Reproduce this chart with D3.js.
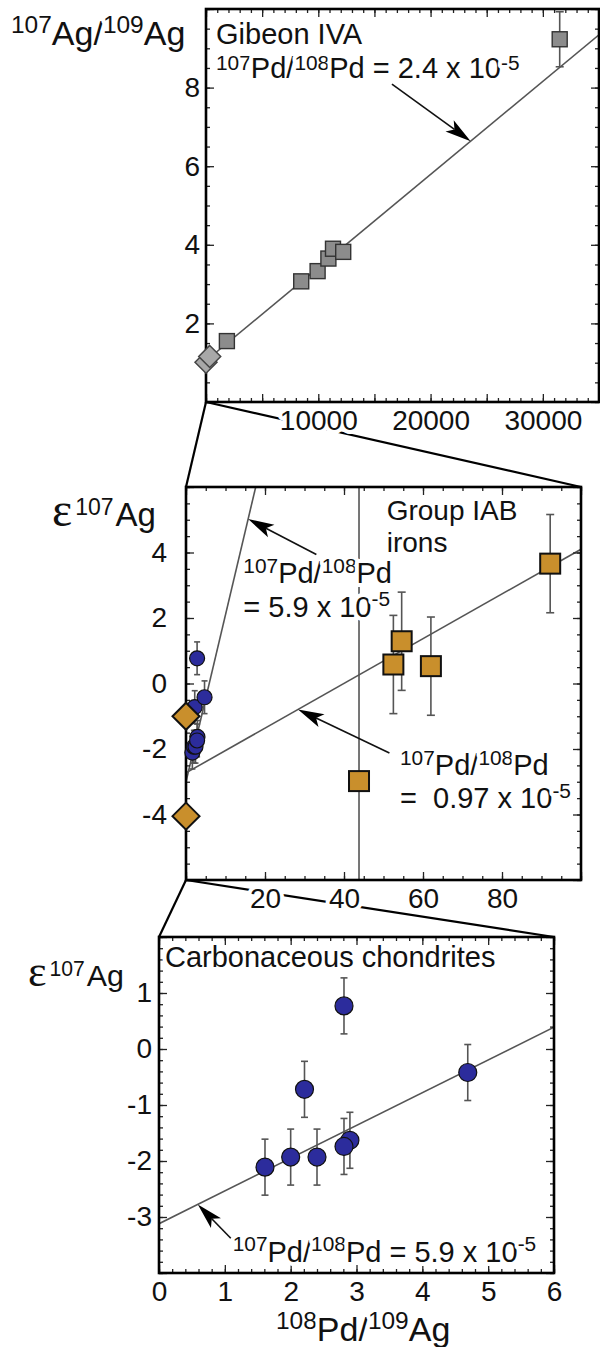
<!DOCTYPE html>
<html>
<head>
<meta charset="utf-8">
<script src="https://cdn.jsdelivr.net/npm/d3@7"></script>
<style>
  body { margin: 0; background: #fff; }
  svg { display: block; font-family: "Liberation Sans", Arial, sans-serif; }
  text { white-space: pre; }
</style>
</head>
<body>
<div id="chart"></div>
<script>
// ---- panel 1 : Gibeon IVA ----
const gibPdAg = [1860, 8480, 9940, 10900, 11310, 12220, 31500];
const gibAg = [1.55, 3.07, 3.33, 3.65, 3.90, 3.82, 9.23];
const gibErr = [0, 0, 0, 0, 0, 0, 0.7];
const gibDiaPdAg = [0, 330];
const gibDiaAg = [1.01, 1.16];
const gibFit = [1.05, 2.37e-4]; // intercept, slope

// ---- panel 2 : group IAB irons ----
const iabPdAg = [43.8, 52.5, 54.6, 62.0, 92.2];
const iabEps = [-2.98, 0.58, 1.29, 0.53, 3.66];
const iabErr = [9, 1.5, 1.5, 1.5, 1.5];
const iabDiaPdAg = [0, 0];
const iabDiaEps = [-1.0, -4.05];
const iabFit = [-2.73, 0.0683];
const ccFitZoomed = [-3.0, 0.51];

// ---- panel 3 : carbonaceous chondrites ----
const ccPdAg = [1.61, 2.00, 2.21, 2.40, 2.81, 2.90, 2.81, 4.69];
const ccEps = [-2.11, -1.93, -0.72, -1.93, 0.77, -1.63, -1.74, -0.42];
const ccErr = [0.5, 0.5, 0.5, 0.5, 0.5, 0.5, 0.5, 0.5];
const ccFit = [-3.12, 0.585];

// tick labels
const p1xLabels = [10000, 20000, 30000];
const p1yLabels = [2, 4, 6, 8];
const p2xLabels = [20, 40, 60, 80];
const p2yLabels = [-4, -2, 0, 2, 4];
const p3xLabels = [0, 1, 2, 3, 4, 5, 6];
const p3yLabels = [-3, -2, -1, 0, 1];

const ORANGE = '#c98f2c';
const BLUE = '#2c2c9c';
const GREY = '#8c8c8c';
const FS = 28;      // tick label size
const AFS = 29;     // annotation size

const svg = d3.select('#chart').append('svg')
  .attr('width', 600).attr('height', 1347);

const panels = {
  p1: { left: 206, top: 9, right: 599, bottom: 402, xd: [0, 35000], yd: [0, 10],
        xMaj: 5000, xMin: 1000, yMaj: 2, yMin: 0.5, xLab: p1xLabels, yLab: p1yLabels, yPad: 6 },
  p2: { left: 186, top: 487, right: 581, bottom: 880, xd: [0, 100], yd: [-6, 6],
        xMaj: 20, xMin: 5, yMaj: 2, yMin: 0.5, xLab: p2xLabels, yLab: p2yLabels, yPad: 19 },
  p3: { left: 159, top: 937, right: 554, bottom: 1273, xd: [0, 6], yd: [-4, 2],
        xMaj: 1, xMin: 0.2, yMaj: 1, yMin: 0.2, xLab: p3xLabels, yLab: p3yLabels, yPad: 7 }
};

// zoom connector lines (under everything)
const conn = svg.append('g').attr('stroke', '#000').attr('stroke-width', 2.2);
[['p1', 'p2'], ['p2', 'p3']].forEach(([a, b]) => {
  const A = panels[a], B = panels[b];
  conn.append('line').attr('x1', A.left).attr('y1', A.bottom).attr('x2', B.left).attr('y2', B.top);
  conn.append('line').attr('x1', A.left).attr('y1', A.bottom).attr('x2', B.right).attr('y2', B.top);
});

function halo(sel) {
  return sel.attr('stroke', '#fff').attr('stroke-width', 8)
    .attr('stroke-linejoin', 'round').attr('paint-order', 'stroke');
}

// parts: [string, isSup]; a part '\n' starts a new line
function rich(g, x, y, parts, size, opts) {
  opts = opts || {};
  const supK = opts.supK || 0.72, rise = size * (opts.rise || 0.36), lh = opts.lh || size;
  const t = g.append('text').attr('x', x).attr('y', y)
    .attr('font-size', size).attr('fill', '#111');
  let up = false, first = true;
  parts.forEach(([s, sup]) => {
    if (s === '\n') { first = 'br'; return; }
    const ts = t.append('tspan').text(s);
    let dy = 0;
    if (first === 'br') { ts.attr('x', x); dy += lh; }
    if (sup) ts.attr('font-size', size * supK);
    if (sup && !up) { dy -= rise; up = true; }
    else if (!sup && up) { dy += rise; up = false; }
    if (dy) ts.attr('dy', dy);
    first = false;
  });
  return halo(t);
}

function makePanel(key, id) {
  const c = panels[key];
  const w = c.right - c.left, h = c.bottom - c.top;
  const x = d3.scaleLinear().domain(c.xd).range([0, w]);
  const y = d3.scaleLinear().domain(c.yd).range([h, 0]);
  const g = svg.append('g').attr('transform', `translate(${c.left},${c.top})`);
  g.append('clipPath').attr('id', id).append('rect').attr('width', w).attr('height', h);
  const plot = g.append('g').attr('clip-path', `url(#${id})`);
  return { c, w, h, x, y, g, plot };
}

function frame(P) {
  const { c, w, h, x, y, g } = P;
  const xMin = d3.range(c.xd[0], c.xd[1] + 1e-9, c.xMin);
  const xMaj = d3.range(c.xd[0], c.xd[1] + 1e-9, c.xMaj);
  const yMin = d3.range(Math.ceil(c.yd[0] / c.yMin) * c.yMin, c.yd[1] + 1e-9, c.yMin);
  const yMaj = d3.range(Math.ceil(c.yd[0] / c.yMaj) * c.yMaj, c.yd[1] + 1e-9, c.yMaj);
  const sides = [
    [d3.axisBottom(x), `translate(0,${h})`, xMin, xMaj],
    [d3.axisTop(x), 'translate(0,0)', xMin, xMaj],
    [d3.axisLeft(y), 'translate(0,0)', yMin, yMaj],
    [d3.axisRight(y), `translate(${w},0)`, yMin, yMaj]
  ];
  sides.forEach(([ax, tr, mn, mj]) => {
    [[mn, -4], [mj, -8]].forEach(([vals, size]) => {
      g.append('g').attr('transform', tr)
        .call(ax.tickValues(vals).tickSize(size).tickFormat(''))
        .call(a => a.select('.domain').remove())
        .selectAll('line').attr('stroke', '#222').attr('stroke-width', 1.3);
    });
  });
  g.append('rect').attr('width', w).attr('height', h)
    .attr('fill', 'none').attr('stroke', '#000').attr('stroke-width', 2.6);

  const xl = g.append('g').attr('transform', `translate(0,${h})`)
    .call(d3.axisBottom(x).tickValues(c.xLab).tickSize(0).tickPadding(8).tickFormat(d => String(d)));
  const yl = g.append('g')
    .call(d3.axisLeft(y).tickValues(c.yLab).tickSize(0).tickPadding(c.yPad).tickFormat(d => String(d)));
  [xl, yl].forEach(a => {
    a.select('.domain').remove();
    a.attr('font-size', FS).attr('font-family', null);
    halo(a.selectAll('text').attr('fill', '#111'));
  });
}

function fitLine(P, fit) {
  const [b, m] = fit;
  P.plot.append('line')
    .attr('x1', P.x(P.c.xd[0])).attr('y1', P.y(b + m * P.c.xd[0]))
    .attr('x2', P.x(P.c.xd[1])).attr('y2', P.y(b + m * P.c.xd[1]))
    .attr('stroke', '#555').attr('stroke-width', 1.6);
}

function errBars(P, xs, ys, es, cap) {
  const eg = P.plot.append('g').attr('stroke', '#555').attr('stroke-width', 1.6);
  xs.forEach((v, i) => {
    if (!es[i]) return;
    const cx = P.x(v), y1 = P.y(ys[i] + es[i]), y2 = P.y(ys[i] - es[i]);
    eg.append('line').attr('x1', cx).attr('x2', cx).attr('y1', y1).attr('y2', y2);
    [y1, y2].forEach(yy => eg.append('line')
      .attr('x1', cx - cap).attr('x2', cx + cap).attr('y1', yy).attr('y2', yy));
  });
}

function squares(P, xs, ys, s, fill, stroke, sw) {
  P.g.append('g').selectAll('rect').data(xs).join('rect')
    .attr('x', (d) => P.x(d) - s / 2).attr('y', (d, i) => P.y(ys[i]) - s / 2)
    .attr('width', s).attr('height', s)
    .attr('fill', fill).attr('stroke', stroke).attr('stroke-width', sw);
}

function diamonds(P, xs, ys, r, fill, stroke, sw) {
  P.g.append('g').selectAll('path').data(xs).join('path')
    .attr('d', (d, i) => {
      const cx = P.x(d), cy = P.y(ys[i]);
      return `M${cx},${cy - r}L${cx + r},${cy}L${cx},${cy + r}L${cx - r},${cy}Z`;
    })
    .attr('fill', fill).attr('stroke', stroke).attr('stroke-width', sw);
}

function circles(P, xs, ys, r) {
  P.g.append('g').selectAll('circle').data(xs).join('circle')
    .attr('cx', d => P.x(d)).attr('cy', (d, i) => P.y(ys[i])).attr('r', r)
    .attr('fill', BLUE).attr('stroke', '#111').attr('stroke-width', 1.2);
}

function arrow(P, tail, tip) {
  const x1 = P.x(tail[0]), y1 = P.y(tail[1]), x2 = P.x(tip[0]), y2 = P.y(tip[1]);
  const a = Math.atan2(y2 - y1, x2 - x1);
  const L = 26, hw = 7, notch = 6;
  const ux = Math.cos(a), uy = Math.sin(a), px = -uy, py = ux;
  const bx = x2 - ux * L, by = y2 - uy * L;
  P.g.append('line').attr('x1', x1).attr('y1', y1)
    .attr('x2', x2 - ux * (L - notch)).attr('y2', y2 - uy * (L - notch))
    .attr('stroke', '#111').attr('stroke-width', 1.6);
  P.g.append('path')
    .attr('d', `M${x2},${y2}L${bx + px * hw},${by + py * hw}L${bx + ux * notch},${by + uy * notch}L${bx - px * hw},${by - py * hw}Z`)
    .attr('fill', '#000');
}

function epsTitle(x, y, k) {
  const t = svg.append('text').attr('x', x).attr('y', y).attr('fill', '#111');
  t.append('tspan').text('ε').attr('font-family', '"Liberation Serif", serif').attr('font-size', 48 * k);
  t.append('tspan').text('107').attr('font-size', 23 * k).attr('dx', 3).attr('dy', -11 * k);
  t.append('tspan').text('Ag').attr('font-size', 33 * k).attr('dx', 2).attr('dy', 11 * k);
}

// ================= panel 1 =================
const P1 = makePanel('p1', 'clip1');
fitLine(P1, gibFit);
errBars(P1, gibPdAg, gibAg, gibErr, 4);
frame(P1);
diamonds(P1, gibDiaPdAg, gibDiaAg, 11, '#a8a8a8', '#444', 1.5);
squares(P1, gibPdAg, gibAg, 15, GREY, '#333', 1.4);
rich(P1.g, 10, 35, [['Gibeon IVA', 0]], AFS);
rich(P1.g, 10, 69, [['107', 1], ['Pd/', 0], ['108', 1], ['Pd = 2.4 x 10', 0], ['-5', 1]], AFS, { rise: 0.27 });
arrow(P1, [16560, 8.09], [23570, gibFit[0] + gibFit[1] * 23570]);
rich(svg, 11, 45, [['107', 1], ['Ag/', 0], ['109', 1], ['Ag', 0]], 34, { supK: 0.72, rise: 0.36 });

// ================= panel 2 =================
const P2 = makePanel('p2', 'clip2');
fitLine(P2, iabFit);
fitLine(P2, ccFitZoomed);
errBars(P2, iabPdAg, iabEps, iabErr, 4);
errBars(P2, ccPdAg, ccEps, ccErr, 3);
frame(P2);
circles(P2, ccPdAg, ccEps, 7.5);
diamonds(P2, iabDiaPdAg, iabDiaEps, 13.5, ORANGE, '#111', 2);
squares(P2, iabPdAg, iabEps, 20, ORANGE, '#111', 2);
rich(P2.g, 200.7, 33, [['Group IAB', 0]], 28);
rich(P2.g, 200.7, 65, [['irons', 0]], 28);
rich(P2.g, 57.3, 96.3, [['107', 1], ['Pd/', 0], ['108', 1], ['Pd', 0], ['\n'], ['= 5.9 x 10', 0], ['-5', 1]],
  AFS, { lh: 33.4 });
rich(P2.g, 214, 288, [['107', 1], ['Pd/', 0], ['108', 1], ['Pd', 0], ['\n'], ['=  0.97 x 10', 0], ['-5', 1]],
  AFS, { lh: 33.3 });
arrow(P2, [33.0, 3.94], [15.73, ccFitZoomed[0] + ccFitZoomed[1] * 15.73]);
arrow(P2, [51.5, -2.12], [28.36, iabFit[0] + iabFit[1] * 28.36]);
epsTitle(52, 526, 1);

// ================= panel 3 =================
const P3 = makePanel('p3', 'clip3');
fitLine(P3, ccFit);
errBars(P3, ccPdAg, ccEps, ccErr, 3.5);
frame(P3);
circles(P3, ccPdAg, ccEps, 9);
rich(P3.g, 6, 29.7, [['Carbonaceous chondrites', 0]], AFS);
rich(P3.g, 73.7, 324.7, [['107', 1], ['Pd/', 0], ['108', 1], ['Pd = 5.9 x 10', 0], ['-5', 1]], AFS);
arrow(P3, [1.09, -3.38], [0.59, ccFit[0] + ccFit[1] * 0.59]);
epsTitle(28, 986, 0.92);
rich(svg, 276, 1341, [['108', 1], ['Pd/', 0], ['109', 1], ['Ag', 0]], 34);
</script>
</body>
</html>
